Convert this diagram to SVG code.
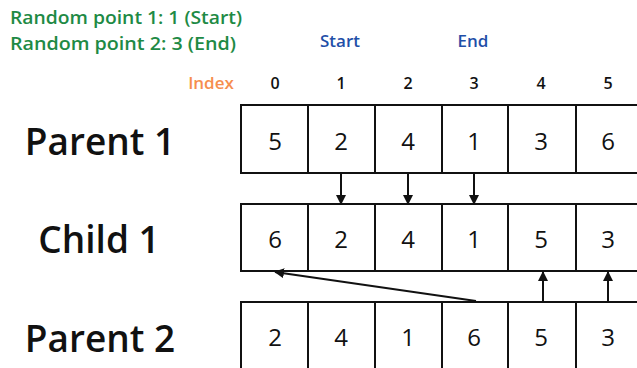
<svg xmlns="http://www.w3.org/2000/svg" width="637" height="368" viewBox="0 0 637 368">
<style>
.cell{fill:#fff;stroke:#111;stroke-width:2}
.num{font-family:"Open Sans",sans-serif;font-size:24px;font-weight:400;fill:#111;text-anchor:middle;dominant-baseline:central}
.idx{font-family:"Open Sans",sans-serif;font-size:16px;font-weight:600;fill:#111;text-anchor:middle;dominant-baseline:central}
.lbl{font-family:"Open Sans",sans-serif;font-size:37px;font-weight:600;fill:#111;text-anchor:middle;dominant-baseline:central}
.g{font-family:"Open Sans",sans-serif;font-size:18px;font-weight:600;fill:#1e8a45}
.b{font-family:"Open Sans",sans-serif;font-size:17px;font-weight:600;fill:#1f4fa8;text-anchor:middle;dominant-baseline:central}
.o{font-family:"Open Sans",sans-serif;font-size:17px;font-weight:600;fill:#f68e4e;text-anchor:middle;dominant-baseline:central}
.c{stroke:#111;stroke-width:2;fill:none;marker-end:url(#ah)}
</style>
<defs>
<marker id="ah" markerWidth="10" markerHeight="10" refX="9" refY="5" orient="auto" markerUnits="userSpaceOnUse">
<path d="M0,0 L10,5 L0,10 z" fill="#111"/>
</marker>
</defs>
<rect width="637" height="368" fill="#fff"/>
<g id="header">
<text class="g" x="10" y="24" textLength="232" lengthAdjust="spacingAndGlyphs">Random point 1: 1 (Start)</text>
<text class="g" x="10" y="50" textLength="226" lengthAdjust="spacingAndGlyphs">Random point 2: 3 (End)</text>
<text class="b" x="340" y="40">Start</text>
<text class="b" x="473" y="40">End</text>
<text class="o" x="211" y="82">Index</text>
<text class="idx" x="275" y="83">0</text>
<text class="idx" x="341" y="83">1</text>
<text class="idx" x="408" y="83">2</text>
<text class="idx" x="474" y="83">3</text>
<text class="idx" x="541" y="83">4</text>
<text class="idx" x="608" y="83">5</text>
</g>
<g id="parent1">
<text class="lbl" x="100" y="140">Parent 1</text>
<rect class="cell" x="241" y="105" width="67" height="68"/>
<rect class="cell" x="308" y="105" width="67" height="68"/>
<rect class="cell" x="375" y="105" width="67" height="68"/>
<rect class="cell" x="442" y="105" width="66" height="68"/>
<rect class="cell" x="508" y="105" width="68" height="68"/>
<rect class="cell" x="576" y="105" width="67" height="68"/>
<text class="num" x="275" y="140">5</text>
<text class="num" x="341" y="140">2</text>
<text class="num" x="408" y="140">4</text>
<text class="num" x="474" y="140">1</text>
<text class="num" x="541" y="140">3</text>
<text class="num" x="608" y="140">6</text>
</g>
<g id="child1">
<text class="lbl" x="99" y="238">Child 1</text>
<rect class="cell" x="241" y="204" width="67" height="67"/>
<rect class="cell" x="308" y="204" width="67" height="67"/>
<rect class="cell" x="375" y="204" width="67" height="67"/>
<rect class="cell" x="442" y="204" width="66" height="67"/>
<rect class="cell" x="508" y="204" width="68" height="67"/>
<rect class="cell" x="576" y="204" width="67" height="67"/>
<text class="num" x="275" y="238">6</text>
<text class="num" x="341" y="238">2</text>
<text class="num" x="408" y="238">4</text>
<text class="num" x="474" y="238">1</text>
<text class="num" x="541" y="238">5</text>
<text class="num" x="608" y="238">3</text>
</g>
<g id="parent2">
<text class="lbl" x="100" y="337">Parent 2</text>
<rect class="cell" x="241" y="302" width="67" height="80"/>
<rect class="cell" x="308" y="302" width="67" height="80"/>
<rect class="cell" x="375" y="302" width="67" height="80"/>
<rect class="cell" x="442" y="302" width="66" height="80"/>
<rect class="cell" x="508" y="302" width="68" height="80"/>
<rect class="cell" x="576" y="302" width="67" height="80"/>
<text class="num" x="275" y="336">2</text>
<text class="num" x="341" y="336">4</text>
<text class="num" x="408" y="336">1</text>
<text class="num" x="474" y="336">6</text>
<text class="num" x="541" y="336">5</text>
<text class="num" x="608" y="336">3</text>
</g>
<g id="connectors">
<line class="c" x1="341" y1="173" x2="341" y2="204"/>
<line class="c" x1="408" y1="173" x2="408" y2="204"/>
<line class="c" x1="474" y1="173" x2="474" y2="204"/>
<line class="c" x1="543" y1="302" x2="543" y2="272"/>
<line class="c" x1="608" y1="302" x2="608" y2="272"/>
<line class="c" x1="476" y1="301" x2="275" y2="272"/>
</g>
</svg>
